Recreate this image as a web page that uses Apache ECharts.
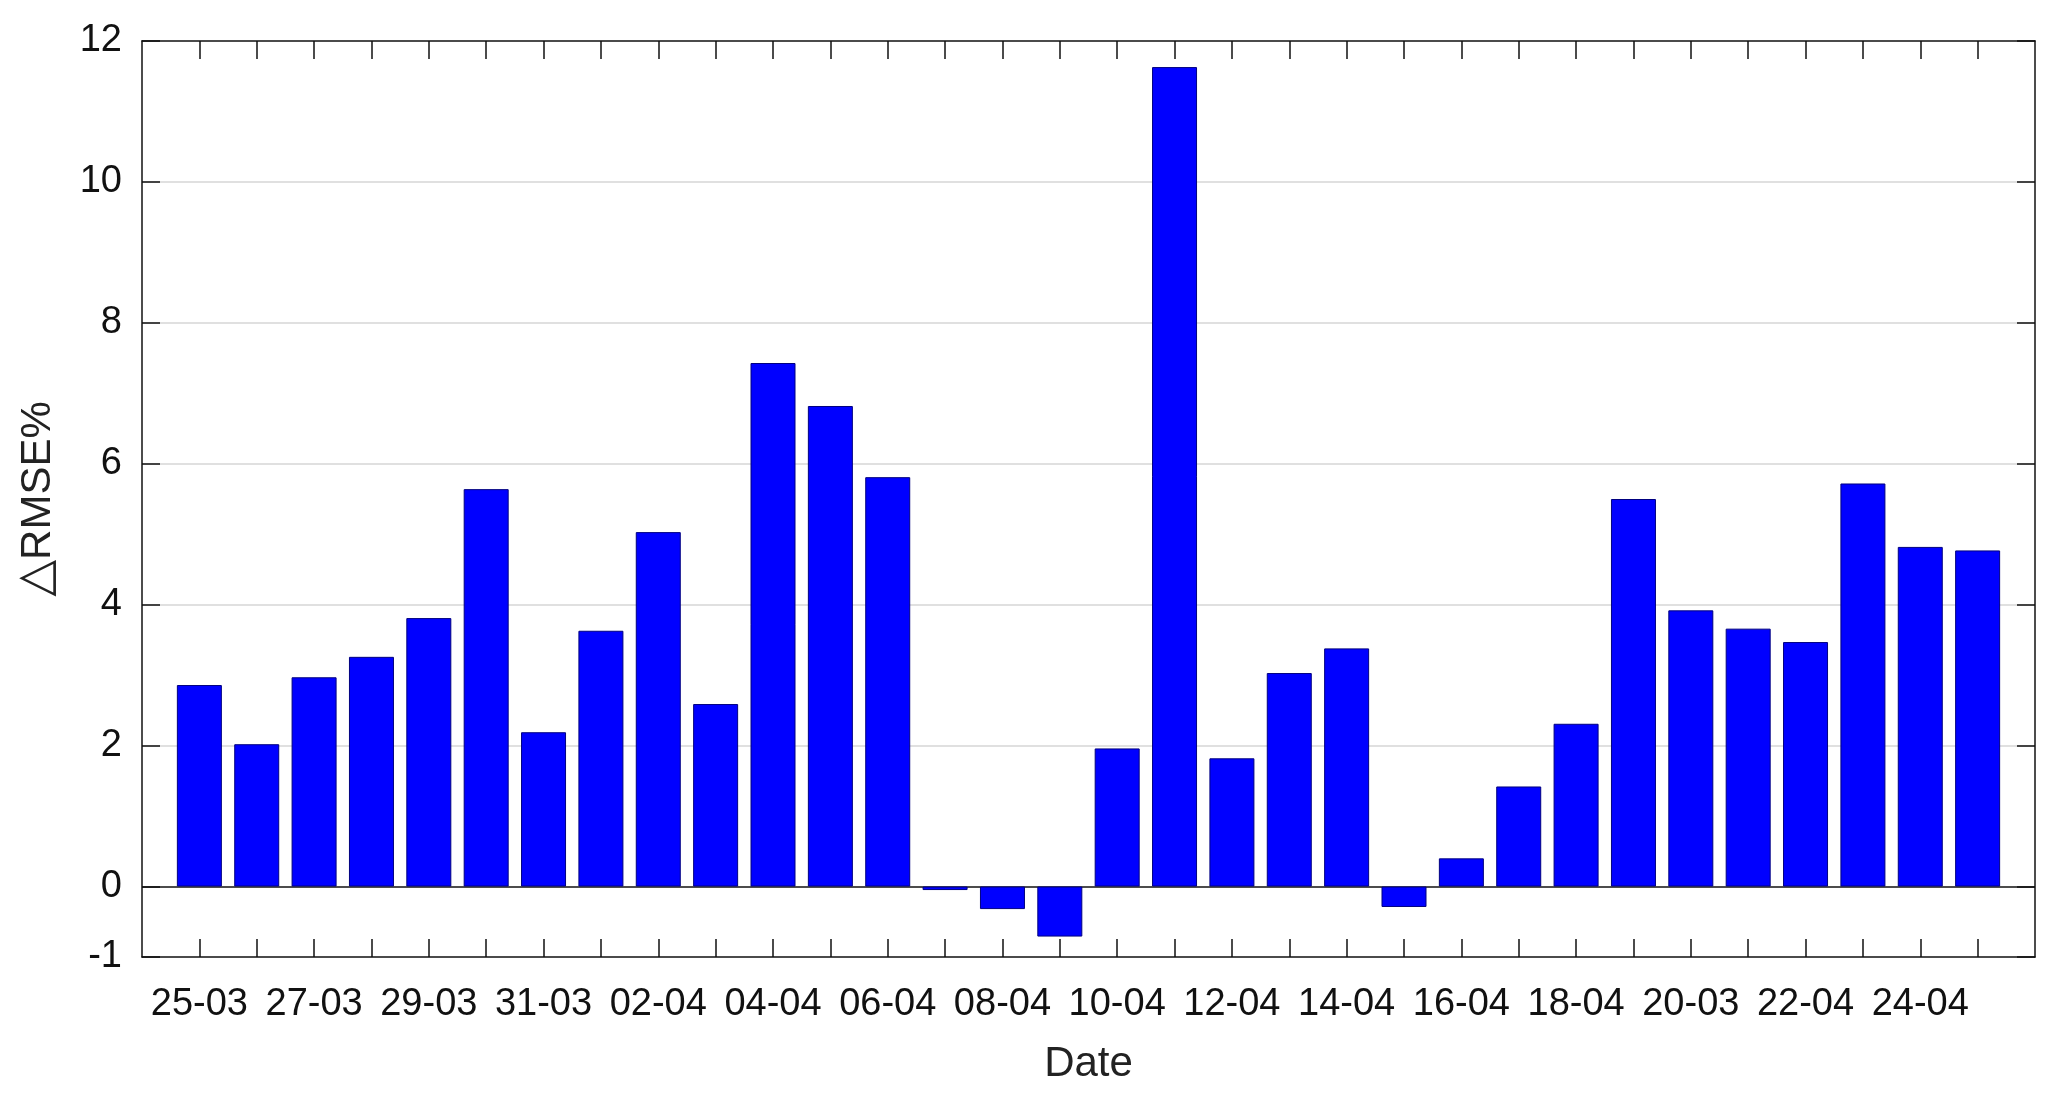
<!DOCTYPE html>
<html>
<head>
<meta charset="utf-8">
<script src="https://cdn.jsdelivr.net/npm/echarts@6/dist/echarts.min.js"></script>
<style>
html,body{margin:0;padding:0;background:#fff;}
#chart{width:2067px;height:1101px;}
</style>
</head>
<body>
<div id="chart"></div>
<script>
// Dates (one bar per day)
const dates = ['25-03','26-03','27-03','28-03','29-03','30-03','31-03',
  '01-04','02-04','03-04','04-04','05-04','06-04','07-04','08-04','09-04',
  '10-04','11-04','12-04','13-04','14-04','15-04','16-04','17-04','18-04',
  '19-04','20-04','21-04','22-04','23-04','24-04','25-04'];
// Tick labels as printed (every second day)
const tickLabels = ['25-03','27-03','29-03','31-03','02-04','04-04','06-04','08-04',
  '10-04','12-04','14-04','16-04','18-04','20-03','22-04','24-04'];
// ΔRMSE% values
const values = [2.86,2.02,2.97,3.26,3.81,5.64,2.19,3.63,5.03,2.59,7.43,6.82,5.81,
  -0.05,-0.32,-0.71,1.96,11.63,1.82,3.03,3.38,-0.29,0.40,1.42,2.31,5.50,3.92,3.66,
  3.47,5.72,4.82,4.77];
const yTicks = [-1,0,2,4,6,8,10,12];

// padded category list so the plot leaves a full band at each end
const cats = [''].concat(dates, ['']);
const data = [null].concat(values, [null]);

const font = 'Liberation Sans, Arial, Helvetica, sans-serif';
const chart = echarts.init(document.getElementById('chart'), null, {renderer:'canvas'});
const tickIdx = i => i > 0 && i < cats.length - 1;

chart.setOption({
  animation: false,
  backgroundColor: '#fff',
  grid: {left: 142, right: 32, top: 41, bottom: 144, containLabel: false},
  xAxis: [{
    type: 'category', data: cats, boundaryGap: false, position: 'bottom',
    name: 'Date', nameLocation: 'middle', nameGap: 86,
    nameTextStyle: {fontFamily: font, fontSize: 42, color: '#222'},
    axisLine: {onZero: false, lineStyle: {color: '#111', width: 1.5}},
    axisTick: {inside: true, length: 18, interval: (i) => tickIdx(i), lineStyle: {color: '#111', width: 1.5}},
    axisLabel: {
      interval: (i) => tickIdx(i) && (i - 1) % 2 === 0,
      margin: 29, fontFamily: font, fontSize: 38, color: '#111',
      formatter: (v, i) => tickLabels[(i - 1) / 2] || ''
    },
    splitLine: {show: false}
  }, {
    type: 'category', data: cats, boundaryGap: false, position: 'top',
    axisLine: {onZero: false, lineStyle: {color: '#111', width: 1.5}},
    axisTick: {inside: true, length: 18, interval: (i) => tickIdx(i), lineStyle: {color: '#111', width: 1.5}},
    axisLabel: {show: false},
    splitLine: {show: false}
  }],
  yAxis: [{
    type: 'value', min: -1, max: 12, position: 'left',
    name: '{t|\u25B3}RMSE%', nameLocation: 'middle', nameGap: 80,
    nameTextStyle: {fontFamily: font, fontSize: 42, color: '#222',
      rich: {t: {fontFamily: 'DejaVu Sans, sans-serif', fontSize: 48, color: '#222'}}},
    axisLine: {show: true, onZero: false, lineStyle: {color: '#111', width: 1.5}},
    axisTick: {show: true, inside: true, length: 18, customValues: yTicks, lineStyle: {color: '#111', width: 1.5}},
    axisLabel: {customValues: yTicks, margin: 20, fontFamily: font, fontSize: 38, color: '#111'},
    splitLine: {show: true, lineStyle: {
      color: ['rgba(0,0,0,0)','#111','#d6d6d6','#d6d6d6','#d6d6d6','#d6d6d6','#d6d6d6','rgba(0,0,0,0)'],
      width: 1.5}}
  }, {
    type: 'value', min: -1, max: 12, position: 'right',
    axisLine: {show: true, onZero: false, lineStyle: {color: '#111', width: 1.5}},
    axisTick: {show: true, inside: true, length: 18, customValues: yTicks, lineStyle: {color: '#111', width: 1.5}},
    axisLabel: {show: false},
    splitLine: {show: false}
  }],
  series: [{
    type: 'bar', data: data, xAxisIndex: 0, yAxisIndex: 0,
    barWidth: 45,
    itemStyle: {color: '#0000ff', borderColor: '#000080', borderWidth: 1}
  }]
});
</script>
</body>
</html>
